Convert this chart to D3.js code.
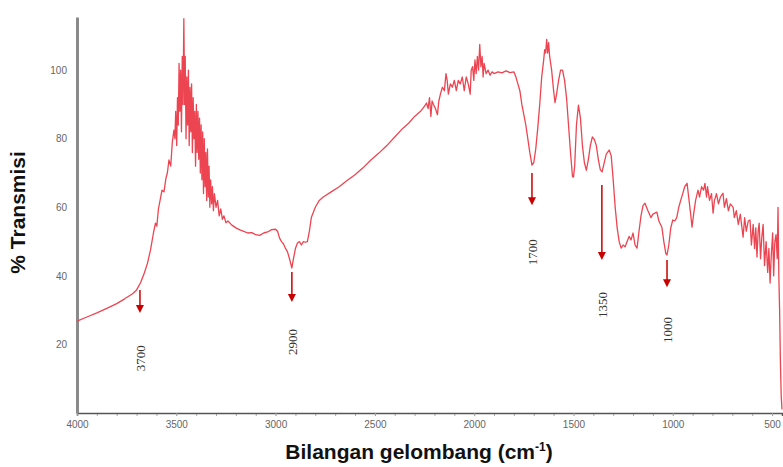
<!DOCTYPE html>
<html>
<head>
<meta charset="utf-8">
<script src="https://cdn.jsdelivr.net/npm/d3@7"></script>
<style>
  body { margin: 0; background: #fff; }
  svg { display: block; }
  .tick text { font-family: "Liberation Sans", Arial, sans-serif; font-size: 10px; fill: #666; }
  .axis-label { font-family: "Liberation Sans", Arial, sans-serif; font-weight: bold; fill: #111; }
  .peak-label { font-family: "Liberation Serif", "Times New Roman", serif; font-size: 13px; fill: #333; }
</style>
</head>
<body>
<svg width="783" height="467"></svg>
<script>
// spectrum: wavenumber (cm-1) and % transmission
const wavenumber = [
  4000, 3950, 3900, 3850, 3800, 3760, 3720, 3700, 3680, 3660, 3645, 3630, 3615, 3605, 3598, 3590,
  3580, 3572, 3562, 3552, 3545, 3537, 3528, 3520, 3512,
  3507, 3503, 3498, 3494, 3490, 3486, 3482, 3478, 3474, 3470, 3466, 3462, 3458, 3455, 3451,
  3447, 3443, 3439, 3435, 3431, 3427, 3423, 3419, 3415, 3411, 3407, 3403, 3399, 3395, 3391,
  3387, 3383, 3379, 3375, 3371, 3367, 3363, 3359, 3355, 3351, 3347, 3343, 3339, 3335, 3331,
  3327, 3322, 3318, 3313, 3308, 3300, 3292, 3284, 3276, 3268, 3260, 3250, 3240, 3220, 3200,
  3180, 3160, 3140, 3120, 3100, 3080, 3060, 3040, 3020, 3000, 2990, 2980, 2970, 2960, 2950,
  2940, 2930, 2918, 2910, 2900, 2890, 2880, 2870, 2860, 2850, 2840, 2830, 2820, 2800, 2780,
  2760, 2720, 2680, 2640, 2600, 2560, 2520, 2480, 2440, 2400, 2360, 2330, 2300, 2270, 2250,
  2240, 2232, 2225, 2218, 2212, 2205, 2195, 2185, 2178, 2170, 2160, 2150, 2142, 2136, 2130,
  2120, 2110, 2100, 2090, 2080, 2070, 2060, 2050, 2040, 2030, 2020, 2015, 2008, 2002, 1996,
  1990, 1984, 1978, 1972, 1966, 1960, 1955, 1950, 1940, 1930, 1920, 1910, 1900, 1880, 1860,
  1840, 1820, 1800, 1790, 1780, 1770, 1760, 1750, 1740, 1730, 1720, 1709, 1700, 1690, 1680,
  1670, 1660, 1650, 1645, 1640, 1635, 1630, 1625, 1620, 1610, 1600, 1593, 1585, 1575, 1565,
  1555, 1545, 1535, 1525, 1515, 1505, 1500, 1494, 1485, 1475, 1465, 1455, 1445, 1435, 1425,
  1415, 1405, 1395, 1385, 1375, 1365, 1356, 1345, 1335, 1320, 1310, 1300, 1290, 1280, 1270,
  1260, 1250, 1240, 1230, 1220, 1210, 1200, 1190, 1180, 1170, 1160, 1150, 1140, 1125, 1110,
  1100, 1080, 1070, 1055, 1045, 1035, 1029, 1020, 1010, 1000, 990, 980, 970, 960, 950,
  940, 928, 920, 910, 903, 895, 885, 873, 865, 855, 845, 838, 830, 825, 815,
  805, 797, 790, 780, 770, 760, 747, 740, 730, 720, 710, 696, 690, 680, 670,
  660, 646, 638, 630, 620, 611, 604, 595, 588, 582, 576, 570, 565, 558, 552,
  545, 538, 530, 522, 516, 510, 504, 497, 492, 486, 480, 474, 470, 466, 462,
  458, 454, 450
];
const transmission = [
  26.8, 28.0, 29.2, 30.5, 31.9, 33.3, 34.8, 35.9, 38.0, 41.0, 43.7, 47.5, 52.5, 55.4, 54.5, 59.5,
  62.5, 65.0, 64.5, 68.5, 70.0, 73.8, 72.0, 79.0, 82.5,
  80.0, 88.0, 78.0, 92.0, 84.0, 102.0, 88.0, 100.0, 82.0, 104.0, 90.0, 115.0, 90.0, 104.0, 80.0,
  98.0, 84.0, 100.0, 78.0, 95.0, 82.0, 96.0, 76.0, 92.0, 80.0, 88.0, 72.0, 90.0, 76.0, 88.0,
  74.0, 86.0, 70.0, 84.0, 68.0, 82.0, 64.0, 80.0, 66.0, 76.0, 62.0, 77.0, 63.0, 72.0, 60.0,
  68.0, 61.0, 66.0, 59.0, 64.0, 60.0, 62.0, 57.5, 59.5, 56.5, 57.5, 55.5, 56.0, 54.8, 54.0,
  53.4, 53.0, 52.5, 52.6, 52.0, 51.8, 52.5, 52.8, 53.5, 53.6, 53.0, 51.0, 50.0, 49.3, 48.0,
  47.0, 45.0, 42.3, 45.0, 48.0, 49.6, 50.0, 49.0, 50.0, 49.8, 50.0, 53.0, 57.0, 60.0, 62.0,
  63.0, 64.5, 66.0, 67.8, 69.5, 71.5, 73.8, 75.8, 78.0, 80.5, 83.0, 84.5, 86.5, 88.0, 89.5,
  90.4, 88.8, 92.0, 86.5, 91.0, 90.0, 88.8, 87.0, 91.0, 93.0, 95.0, 94.0, 99.0, 97.0, 93.0,
  96.0, 95.0, 97.0, 94.0, 97.0, 96.0, 98.0, 94.0, 98.0, 96.0, 93.0, 100.0, 101.0, 97.0, 103.0,
  99.0, 104.0, 100.0, 107.5, 101.0, 104.0, 98.0, 102.0, 99.0, 100.0, 98.5, 99.5, 99.0, 99.5, 99.2,
  99.8, 99.3, 99.5, 98.0, 96.0, 94.0, 90.0, 87.0, 84.0, 80.0, 76.0, 72.3, 73.0, 77.0, 83.0,
  90.0, 98.0, 103.0, 106.0, 105.0, 109.0, 105.0, 108.0, 104.0, 100.0, 94.0, 90.5, 93.0, 97.0, 100.0,
  100.0, 97.0, 92.0, 84.0, 76.0, 69.0, 68.8, 72.0, 84.0, 89.8, 86.0, 78.0, 73.0, 70.8, 74.0,
  78.0, 80.5, 79.8, 78.0, 74.0, 71.0, 70.3, 73.0, 75.5, 76.7, 75.0, 68.0, 60.0, 54.0, 50.0,
  48.1, 49.0, 48.5, 50.0, 51.5, 50.5, 52.5, 49.0, 48.1, 53.0, 57.5, 60.5, 61.2, 59.0, 57.0,
  58.0, 58.6, 56.0, 54.2, 50.0, 46.5, 46.1, 49.0, 54.0, 56.3, 56.0, 57.0, 60.0, 62.0, 64.0,
  66.0, 67.0, 63.0, 58.0, 54.2, 58.0, 62.0, 65.0, 63.0, 66.0, 65.0, 67.0, 63.0, 66.0, 62.0,
  64.0, 58.3, 62.0, 64.0, 61.0, 63.0, 64.1, 60.0, 62.5, 59.0, 61.0, 60.0, 57.0, 59.0, 55.0,
  58.0, 51.3, 57.0, 53.0, 56.0, 56.3, 49.0, 55.0, 48.0, 54.0, 45.5, 53.0, 55.4, 45.0, 51.0,
  55.0, 43.0, 50.0, 41.0, 48.0, 37.9, 46.0, 52.5, 40.0, 50.0, 52.0, 45.0, 60.0, 40.0, 30.0,
  15.0, 5.0, 1.0
];

// marked bands: arrow x, arrow top / tip and label centre in % T
const peakLabels = ['3700', '2900', '1700', '1350', '1000'];
const peakPos = [3683, 2918, 1709, 1357, 1029];
const arrowTop = [35.9, 41.1, 70.0, 66.5, 44.6];
const arrowTip = [29.2, 32.4, 60.6, 44.6, 36.7];
const labelAt = [16.0, 20.7, 46.9, 31.5, 24.2];

const xTicks = [4000, 3500, 3000, 2500, 2000, 1500, 1000, 500];
const xMinorTicks = d3.range(3900, 449, -100).filter(d => !xTicks.includes(d));
const yTicks = [20, 40, 60, 80, 100];

const svg = d3.select('svg');
const margin = { top: 17, right: 1, bottom: 54, left: 77 };
const width = +svg.attr('width');
const height = +svg.attr('height');
const innerWidth = width - margin.left - margin.right;
const innerHeight = height - margin.top - margin.bottom;

const xScale = d3.scaleLinear().domain([4000, 450]).range([0, innerWidth]);
const yScale = d3.scaleLinear().domain([0, 115.5]).range([innerHeight, 0]);

const g = svg.append('g')
    .attr('transform', `translate(${margin.left}, ${margin.top})`);

// minor ticks every 100, no labels
const minorG = g.append('g')
    .attr('transform', `translate(0, ${innerHeight})`)
    .call(d3.axisBottom(xScale).tickValues(xMinorTicks).tickSize(3).tickFormat(''));
minorG.select('.domain').remove();
minorG.selectAll('.tick text').remove();
minorG.selectAll('.tick line').attr('stroke', '#aaa');

const xAxisG = g.append('g')
    .attr('transform', `translate(0, ${innerHeight})`)
    .call(d3.axisBottom(xScale).tickValues(xTicks).tickSize(3).tickFormat(d3.format('d')));
xAxisG.select('.domain').attr('stroke', '#555').attr('stroke-width', 1.5);
xAxisG.selectAll('.tick line').attr('stroke', '#999');
xAxisG.selectAll('.tick text').attr('dy', '0.9em');

const yAxisG = g.append('g')
    .call(d3.axisLeft(yScale).tickValues(yTicks).tickSize(0).tickPadding(10).tickFormat(d3.format('d')));
yAxisG.select('.domain').attr('stroke', '#8a8a8a').attr('stroke-width', 3);

g.append('text')
    .attr('class', 'axis-label')
    .attr('x', 342)
    .attr('y', innerHeight + 46)
    .attr('text-anchor', 'middle')
    .style('font-size', '21px')
    .html('Bilangan gelombang (cm<tspan dy="-8" style="font-size:12px">-1</tspan><tspan dy="8">)</tspan>');

g.append('text')
    .attr('class', 'axis-label')
    .attr('transform', `translate(${-52}, ${yScale(58.5)}) rotate(-90)`)
    .attr('text-anchor', 'middle')
    .style('font-size', '21px')
    .text('% Transmisi');

const spectrum = wavenumber.map((w, i) => [w, transmission[i]]);

g.append('path')
    .datum(spectrum)
    .attr('fill', 'none')
    .attr('stroke', '#ec4551')
    .attr('stroke-width', 1.3)
    .attr('stroke-linejoin', 'round')
    .attr('d', d3.line().x(d => xScale(d[0])).y(d => yScale(d[1])));

const peaks = peakLabels.map((label, i) => ({
  label, pos: peakPos[i], top: arrowTop[i], tip: arrowTip[i], at: labelAt[i]
}));

g.selectAll('.arrow')
    .data(peaks)
    .enter()
    .append('line')
    .attr('class', 'arrow')
    .attr('x1', d => xScale(d.pos))
    .attr('x2', d => xScale(d.pos))
    .attr('y1', d => yScale(d.top))
    .attr('y2', d => yScale(d.tip) - 6)
    .attr('stroke', '#c80000')
    .attr('stroke-width', 1.5);

g.selectAll('.arrow-head')
    .data(peaks)
    .enter()
    .append('path')
    .attr('class', 'arrow-head')
    .attr('d', d => {
      const x = xScale(d.pos), y = yScale(d.tip);
      return `M${x - 4},${y - 8} L${x + 4},${y - 8} L${x},${y} Z`;
    })
    .attr('fill', '#c80000');

g.selectAll('.peak-label')
    .data(peaks)
    .enter()
    .append('text')
    .attr('class', 'peak-label')
    .attr('transform', d => `translate(${xScale(d.pos) + 5}, ${yScale(d.at)}) rotate(-90)`)
    .attr('text-anchor', 'middle')
    .text(d => d.label);
</script>
</body>
</html>
